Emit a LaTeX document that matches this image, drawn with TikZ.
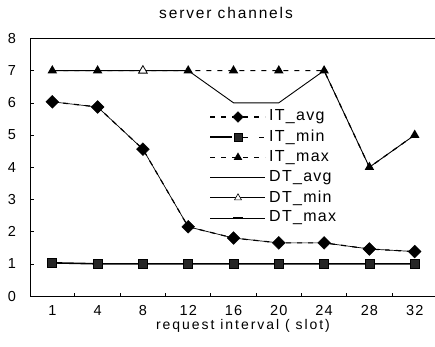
\documentclass[tikz,border=0pt]{standalone}
\usepackage{fontspec}
\setmainfont{Liberation Sans}[LetterSpace=8]
\newfontfamily\axfont{Liberation Sans}[LetterSpace=14]
\newfontfamily\ttlfont{Liberation Sans}[LetterSpace=12]
\usetikzlibrary{shapes.geometric}
\begin{document}
\begin{tikzpicture}[x=1pt,y=-1pt,
  itdash/.style={line width=1.2pt, dash pattern=on 5pt off 6pt},
  dtline/.style={line width=0.7pt},
  lab/.style={font=\fontsize{14.5}{14}\selectfont, inner sep=0},
  leg/.style={font=\fontsize{16}{16}\selectfont, inner sep=0},
  dmark/.style={diamond, fill=black, draw=black, inner sep=0, minimum size=13pt},
  smark/.style={rectangle, fill=black!85, draw=black, line width=0.8pt, inner sep=0, minimum size=9pt},
  tmark/.style={regular polygon, regular polygon sides=3, fill=black, inner sep=0, minimum size=11pt},
  otmark/.style={regular polygon, regular polygon sides=3, draw=black, fill=white, line width=0.8pt, inner sep=0, minimum size=10pt}
]
\fill[white] (0,0) rectangle (435,346);
\useasboundingbox (0,0) rectangle (435,346);

% title
\node[font=\ttlfont\fontsize{15.5}{16}\selectfont, inner sep=0] (title) at (226,13) {server channels};

% axes
\draw[line width=1pt] (435,38.4) -- (30,38.4) -- (30,296) -- (435,296);
\foreach \v in {0,...,8} {
  \draw[line width=0.6pt] (30,{296-32.2*\v}) -- (33.5,{296-32.2*\v});
  \node[lab] (y\v) at (12,{296-32.2*\v}) {\v};
}
\foreach \i in {1,...,8} \draw[line width=0.6pt] ({29.4+45.3*\i},296) -- ({29.4+45.3*\i},292.5);
\foreach \l [count=\i from 0] in {1,4,8,12,16,20,24,28,32}
  \node[lab] (x\i) at ({52.3+45.3*\i},310.5) {\l};
\node[font=\axfont\fontsize{14}{14}\selectfont, inner sep=0] (xt) at (243,326) {request interval ( slot)};

% data coordinates
\foreach \v [count=\i from 0] in {6.03,5.87,4.56,2.15,1.80,1.65,1.65,1.46,1.38}
  \coordinate (a\i) at ({52.3+45.3*\i},{296-32.2*\v});
\foreach \v [count=\i from 0] in {1.03,1,1,1,1,1,1,1,1}
  \coordinate (b\i) at ({52.3+45.3*\i},{296-32.2*\v});
\foreach \v [count=\i from 0] in {7,7,7,7,6,6,7,4,5}
  \coordinate (c\i) at ({52.3+45.3*\i},{296-32.2*\v});
\foreach \v [count=\i from 0] in {7,7,7,7,7,7,7,4,5}
  \coordinate (d\i) at ({52.3+45.3*\i},{296-32.2*\v});

% series lines
\draw[dtline] (a0) \foreach \i in {1,...,8}{ -- (a\i)};
\draw[itdash] (a0) \foreach \i in {1,...,8}{ -- (a\i)};
\draw[line width=1.6pt] (b0) \foreach \i in {1,...,8}{ -- (b\i)};
\draw[line width=0.9pt] (c0) \foreach \i in {1,...,8}{ -- (c\i)};
\draw[itdash] (d0) \foreach \i in {1,...,8}{ -- (d\i)};

% markers
\foreach \i in {0,...,8} {
  \node[dmark] (ma\i) at (a\i) {};
  \node[smark] (mb\i) at (b\i) {};
}
\foreach \i in {0,1,3,4,5,6,7,8} \node[tmark] (md\i) at (d\i) {};
\node[otmark] (md2) at (d2) {};

% legend
\foreach \t [count=\k from 0] in {IT\_avg,IT\_min,IT\_max,DT\_avg,DT\_min,DT\_max} {
  \coordinate (ls\k) at (210,{117+20.2*\k});
  \coordinate (le\k) at (265,{117+20.2*\k});
  \coordinate (lm\k) at (238,{117+20.2*\k});
  \node[leg, anchor=west] (lt\k) at (269,{117+20.2*\k}) {\t};
}
\draw[itdash] (ls0) -- (le0);
\node[dmark, minimum size=11pt] (lg0) at (lm0) {};
\draw[line width=1.5pt] (ls1) -- ++(22,0);
\draw[line width=1.1pt] (lm1) ++(5,0) -- ++(5,0) (lm1) ++(21,0) -- ++(5,0);
\node[smark, minimum size=8pt] (lg1) at (lm1) {};
\draw[itdash] (ls2) -- (le2);
\node[tmark, minimum size=10pt] (lg2) at (lm2) {};
\draw[dtline] (ls3) -- (le3);
\draw[line width=0.9pt] (ls4) -- (le4);
\node[otmark, minimum size=8pt, line width=0.6pt] (lg4) at (lm4) {};
\draw[line width=0.9pt] (ls5) -- (le5);
\draw[line width=1.8pt] (lm5) ++(-5,0) -- ++(10,0);
\end{tikzpicture}
\end{document}
